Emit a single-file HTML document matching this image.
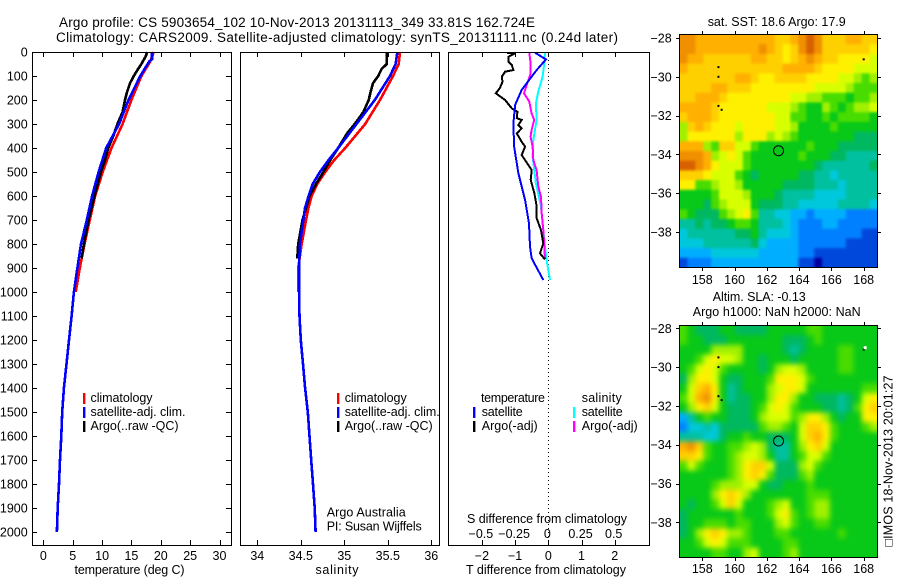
<!DOCTYPE html>
<html>
<head>
<meta charset="utf-8">
<title>Argo profile</title>
<style>
html,body{margin:0;padding:0;background:#fff}
svg{display:block}
text{font-family:"Liberation Sans",sans-serif;font-size:12.5px;fill:#000}
.t{font-size:13.5px}
.prof{fill:none;stroke-width:2.6;shape-rendering:crispEdges}
.diff{fill:none;stroke-width:2;shape-rendering:crispEdges}
.frame{fill:none;stroke:#000;stroke-width:1;shape-rendering:crispEdges}
</style>
</head>
<body>
<svg id="fig" xmlns="http://www.w3.org/2000/svg" width="900" height="580" viewBox="0 0 900 580">
<defs>
<filter id="blurSst" x="-15%" y="-15%" width="130%" height="130%" color-interpolation-filters="sRGB"><feGaussianBlur stdDeviation="1.3"/></filter>
<filter id="blurSla" x="-15%" y="-15%" width="130%" height="130%" color-interpolation-filters="sRGB"><feGaussianBlur stdDeviation="2.7"/></filter>
<clipPath id="clipSst"><rect x="679.5" y="34.5" width="198" height="233"/></clipPath>
<clipPath id="clipSla"><rect x="679.5" y="325.5" width="198" height="232"/></clipPath>
</defs>
<rect width="900" height="580" fill="#fff"/>
<text class="t" x="59" y="27" textLength="476" lengthAdjust="spacing">Argo profile: CS 5903654_102 10-Nov-2013 20131113_349 33.81S 162.724E</text>
<text class="t" x="56" y="42" textLength="562" lengthAdjust="spacing">Climatology: CARS2009. Satellite-adjusted climatology: synTS_20131111.nc (0.24d later)</text>

<g clip-path="url(#clipSst)"><g id="map1" filter="url(#blurSst)"></g></g>
<g clip-path="url(#clipSla)"><g id="map2" filter="url(#blurSla)"></g></g>

<polyline id="tClim" class="prof" stroke="#ff0000"/>
<polyline id="tArgo" class="prof" stroke="#000000"/>
<polyline id="tSat" class="prof" stroke="#0000ff"/>
<polyline id="sClim" class="prof" stroke="#ff0000"/>
<polyline id="sArgo" class="prof" stroke="#000000"/>
<polyline id="sSat" class="prof" stroke="#0000ff"/>
<line x1="548.5" y1="52" x2="548.5" y2="545" stroke="#000" stroke-width="1" stroke-dasharray="1 3" shape-rendering="crispEdges"/>
<polyline id="dSalSat" class="diff" stroke="#00ffff"/>
<polyline id="dSalArgo" class="diff" stroke="#ff00ff"/>
<polyline id="dTempArgo" class="diff" stroke="#000000"/>
<polyline id="dTempSat" class="diff" stroke="#0000ff"/>

<rect class="frame" x="32.5" y="52.5" width="199" height="493"/>
<rect class="frame" x="240.5" y="52.5" width="199" height="493"/>
<rect class="frame" x="448.5" y="52.5" width="201" height="493"/>
<rect class="frame" x="679.5" y="34.5" width="198" height="233"/>
<rect class="frame" x="679.5" y="325.5" width="198" height="232"/>
<g id="ticks"></g>

<text x="129.5" y="574" text-anchor="middle" textLength="110">temperature (deg C)</text>
<text x="337" y="574" text-anchor="middle" textLength="43">salinity</text>
<text x="546" y="574" text-anchor="middle" textLength="160">T difference from climatology</text>
<text x="547" y="523" text-anchor="middle" textLength="160">S difference from climatology</text>

<g>
<rect x="83" y="393" width="2.4" height="11" fill="#f00"/>
<rect x="83" y="407" width="2.4" height="11" fill="#00f"/>
<rect x="83" y="421" width="2.4" height="11" fill="#000"/>
<text x="90.5" y="402" textLength="62">climatology</text>
<text x="90.5" y="416" textLength="95">satellite-adj. clim.</text>
<text x="90.5" y="430" textLength="88">Argo(..raw -QC)</text>
</g>
<g>
<rect x="337" y="393" width="2.4" height="11" fill="#f00"/>
<rect x="337" y="407" width="2.4" height="11" fill="#00f"/>
<rect x="337" y="421" width="2.4" height="11" fill="#000"/>
<text x="344.7" y="402" textLength="62">climatology</text>
<text x="344.7" y="416" textLength="95">satellite-adj. clim.</text>
<text x="344.7" y="430" textLength="88">Argo(..raw -QC)</text>
</g>
<text x="326.7" y="516.5" textLength="79">Argo Australia</text>
<text x="326.7" y="530.5" textLength="95">PI: Susan Wijffels</text>
<g>
<text x="481" y="402" textLength="64">temperature</text>
<text x="581.7" y="402" textLength="40">salinity</text>
<rect x="473" y="407" width="2.4" height="11" fill="#00f"/>
<rect x="473" y="421" width="2.4" height="11" fill="#000"/>
<rect x="573" y="407" width="2.4" height="11" fill="#0ff"/>
<rect x="573" y="421" width="2.4" height="11" fill="#f0f"/>
<text x="481.7" y="416" textLength="41">satellite</text>
<text x="481.7" y="430" textLength="56">Argo(-adj)</text>
<text x="581.7" y="416" textLength="41">satellite</text>
<text x="581.7" y="430" textLength="56">Argo(-adj)</text>
</g>

<text x="707.7" y="26" textLength="138">sat. SST: 18.6 Argo: 17.9</text>
<text x="712.7" y="301" textLength="93">Altim. SLA: -0.13</text>
<text x="692.7" y="316" textLength="168">Argo h1000: NaN h2000: NaN</text>
<text transform="translate(892.5,546.5) rotate(-90)" textLength="171">□IMOS 18-Nov-2013 20:01:27</text>
</svg>
<script>
// Profile depths and values (depth in dbar, temperature in deg C)
const tClimDepth = [0,40,100,200,300,400,500,600,700,800,900,1000];
const tClimValue = [18.8,18.2,16.7,15.0,13.5,11.6,10.1,8.8,7.9,7.0,6.2,5.5];
const tSatDepth = [0,30,40,100,200,300,400,500,600,700,800,900,1000,1100,1200,1300,1400,1500,1600,1700,1800,1900,2000];
const tSatValue = [18.5,18.5,18.0,16.5,14.5,12.9,10.7,9.4,8.3,7.4,6.4,5.8,5.2,4.8,4.36,3.93,3.5,3.2,3.05,2.83,2.66,2.43,2.3];
const tArgoDepth = [0,20,50,80,100,130,170,200,250,300,350,400,450,500,600,700,800,860];
const tArgoValue = [17.7,17.4,16.7,15.9,15.4,14.75,14.2,13.9,13.5,12.6,11.9,11.05,10.5,9.8,8.7,7.7,6.9,6.5];

// Salinity profiles
const sClimDepth = [0,50,100,200,300,400,450,500,550,600,650,700,800,900,1000];
const sClimValue = [35.64,35.625,35.56,35.41,35.24,35.01,34.885,34.78,34.69,34.625,34.587,34.56,34.51,34.47,34.47];
const sSatDepth = [0,50,100,200,300,400,450,500,550,600,650,700,800,900,1000,1100,1200,1300,1400,1500,1600,1700,1800,1900,2000];
const sSatValue = [35.61,35.59,35.525,35.35,35.14,34.93,34.82,34.72,34.637,34.59,34.548,34.53,34.49,34.48,34.48,34.485,34.50,34.525,34.55,34.58,34.60,34.62,34.64,34.66,34.67];
const sArgoDepth = [0,50,70,100,130,170,200,250,300,340,400,450,500,550,600,700,800,860];
const sArgoValue = [35.49,35.49,35.43,35.39,35.33,35.30,35.28,35.22,35.12,35.03,34.93,34.84,34.76,34.675,34.6,34.52,34.47,34.46];

// Differences from climatology
const dTempArgoDepth = [5,5,5,20,40,54,75,82,103,124,151,172,200,235,249,276,283,304,318,339,374,394,429,457,492,533,589,644,693,742,797,839,864];
const dTempArgoValue = [-1.15,-1.25,-1.0,-1.2,-1.2,-1.1,-1.05,-1.3,-1.4,-1.38,-1.46,-1.58,-1.3,-1.1,-0.93,-0.95,-0.8,-0.9,-0.8,-0.95,-0.8,-0.7,-0.8,-0.67,-0.5,-0.53,-0.42,-0.35,-0.35,-0.22,-0.15,-0.25,-0.1];
const dTempSatDepth = [3,31,75,158,221,297,394,506,617,714,811,860,950];
const dTempSatValue = [-0.4,-0.07,-0.35,-0.8,-1.0,-1.05,-1.03,-0.9,-0.7,-0.58,-0.55,-0.5,-0.15];
const dSalArgoDepth = [3,47,89,131,172,207,256,283,325,353,394,450,492,561,603,672,742,860];
const dSalArgoValue = [-0.143,-0.133,-0.133,-0.158,-0.183,-0.143,-0.126,-0.106,-0.126,-0.133,-0.118,-0.113,-0.088,-0.075,-0.055,-0.05,-0.038,-0.025];
const dSalSatDepth = [3,47,103,165,214,283,367,436,547,644,769,867,950];
const dSalSatValue = [-0.025,-0.03,-0.043,-0.075,-0.093,-0.088,-0.113,-0.118,-0.093,-0.055,-0.033,-0.013,0.013];

// Tick labels
const depthTicks = [0,100,200,300,400,500,600,700,800,900,1000,1100,1200,1300,1400,1500,1600,1700,1800,1900,2000];
const tempTicks = [0,5,10,15,20,25,30];
const salTicks = [34,34.5,35,35.5,36];
const dTempTicks = [-2,-1,0,1,2];
const dSalTicks = [-0.5,-0.25,0,0.25,0.5];
const lonTicks = [158,160,162,164,166,168];
const latTicks = [-28,-30,-32,-34,-36,-38];

// Map values: colour-level per cell, north to south (0 = coldest/lowest, 15 = warmest/highest)
const sstGrid = [
[14,14,13,13,13,13,13,13,13,13,13,13,12,12,13,14,15,14,12,12,12,13,13,12,12],
[14,14,13,13,13,13,13,13,13,13,14,13,12,11,12,14,15,14,12,12,12,12,12,12,11],
[14,13,13,12,12,12,12,12,12,13,13,12,12,11,12,13,14,13,12,12,11,11,11,11,10],
[13,12,12,12,12,12,12,12,12,12,12,12,12,13,13,13,13,12,11,11,11,11,10,10,10],
[12,12,12,12,12,12,12,13,13,12,11,11,12,12,12,12,11,11,11,11,10,10,9,8,9],
[12,12,12,12,13,13,12,12,12,11,11,11,11,11,11,11,11,10,10,10,10,9,8,8,8],
[12,12,13,13,13,12,11,11,11,11,11,11,11,11,10,10,9,9,8,8,8,7,8,8,9],
[13,13,13,13,12,11,11,11,11,11,11,10,10,10,9,8,7,7,9,8,7,8,9,9,10],
[12,13,13,13,12,11,11,11,11,11,11,11,10,10,8,8,7,7,8,7,8,8,8,8,7],
[9,12,13,12,11,11,11,10,11,11,11,11,10,10,9,7,7,7,7,8,7,7,7,7,7],
[9,11,11,11,11,11,11,9,11,11,11,9,10,9,8,7,7,7,7,7,7,7,6,6,6],
[13,13,13,9,8,12,12,10,10,8,7,7,7,7,7,7,8,7,7,7,6,6,6,6,6],
[14,14,14,13,9,10,11,10,8,7,7,7,7,7,7,8,7,7,7,6,6,5,5,5,5],
[15,15,14,13,11,10,10,10,8,7,7,7,7,7,7,7,7,6,5,5,5,5,5,5,6],
[12,12,12,11,10,10,10,8,7,6,7,7,7,7,7,6,6,5,5,4,5,5,5,5,5],
[11,11,8,8,9,10,10,9,7,7,7,7,7,6,6,6,6,5,5,5,4,5,5,5,5],
[7,7,7,7,8,10,10,10,9,7,7,7,6,5,5,5,5,4,4,4,4,5,5,5,5],
[7,7,7,6,8,9,10,10,10,7,6,6,6,5,5,4,4,4,4,4,5,5,5,5,4],
[8,7,6,6,6,8,9,10,11,8,5,5,4,4,3,3,2,3,3,3,3,2,2,2,2],
[5,5,6,5,6,6,7,8,8,7,5,5,5,4,3,2,2,2,3,3,2,2,2,2,2],
[4,5,5,5,5,5,5,6,6,7,5,4,4,4,3,2,2,2,2,2,2,2,2,1,1],
[4,4,4,5,5,5,5,5,5,6,4,3,3,3,3,2,2,2,2,2,2,1,1,1,1],
[3,3,3,3,4,4,4,4,4,4,3,3,3,3,3,2,2,1,1,1,1,1,1,1,1],
[1,2,2,2,3,3,3,3,3,3,3,3,3,3,3,1,1,0,1,1,1,1,1,1,1]
];
const slaGrid = [
[8,7,6,6,6,7,7,6,6,6,6,7,7,7,7,7,8,8,7,7,7,7,7,7,7],
[8,7,7,6,6,6,7,7,7,7,7,7,7,6,6,6,7,8,7,7,7,7,7,7,7],
[7,7,7,7,9,9,9,9,7,7,7,7,7,6,5,6,7,7,7,7,8,8,7,7,7],
[7,7,8,10,11,10,10,9,7,7,6,7,7,7,6,7,7,7,7,7,8,8,7,7,7],
[7,8,10,11,10,8,7,7,7,7,6,7,9,10,10,9,7,7,7,7,8,8,7,7,7],
[6,9,11,11,10,7,6,6,7,7,7,8,11,11,11,10,8,7,7,7,7,7,7,7,7],
[7,10,12,13,11,7,5,6,7,7,7,9,10,11,11,10,7,7,7,7,7,7,7,8,8],
[8,10,13,14,11,7,5,6,6,7,7,9,11,11,9,7,7,6,6,6,5,6,7,10,11],
[7,9,11,12,10,7,6,6,6,7,8,10,11,10,8,7,7,7,6,6,5,6,8,11,12],
[3,5,7,8,7,7,6,6,6,7,9,10,10,10,8,9,11,11,9,7,6,7,7,11,11],
[2,4,4,5,4,6,6,6,6,6,8,9,9,8,7,10,12,12,11,8,7,7,7,8,9],
[5,5,5,4,4,6,7,7,8,7,7,6,6,6,7,10,12,13,11,8,7,7,7,7,7],
[13,14,12,8,7,7,8,8,9,10,9,6,5,5,7,9,11,12,10,7,7,7,7,7,7],
[12,12,11,8,7,7,8,9,10,10,9,7,5,5,7,8,10,10,8,7,7,7,7,7,7],
[8,10,8,7,7,7,8,9,11,12,12,10,6,6,6,9,10,8,7,7,7,7,7,7,7],
[7,7,7,7,7,7,8,9,11,12,11,8,6,6,6,8,9,7,7,7,7,7,7,7,7],
[7,7,7,7,8,9,9,9,10,10,7,6,6,7,7,7,8,7,7,7,7,7,7,7,7],
[7,7,7,7,9,11,12,11,9,7,7,7,7,7,7,7,8,8,8,7,7,7,7,7,7],
[7,6,7,7,8,10,12,10,7,7,7,8,9,10,7,7,8,9,9,7,7,7,7,7,7],
[6,7,7,7,7,7,7,8,7,7,7,8,10,11,8,7,8,9,9,7,7,7,7,7,7],
[6,7,7,8,8,8,7,8,8,7,7,7,9,10,8,7,7,8,8,7,7,7,7,7,7],
[6,7,9,11,12,11,9,9,8,7,7,7,8,8,7,7,7,7,7,7,8,7,7,7,7],
[7,7,8,10,11,10,8,8,8,7,7,7,7,8,8,7,7,7,7,7,7,7,7,7,7],
[7,7,7,7,8,8,7,7,9,10,7,7,7,8,9,7,7,7,7,7,7,7,7,7,7]
];
const levelColors = ['#0000a0','#0048dc','#0080ff','#00aeff','#00c8dc','#00c0a0','#00b860','#08c818','#48dc00','#a0f000','#d8ff00','#fff000','#ffd000','#ffb000','#f09000','#d86000'];

// Argo float location and land/missing-data specks (lon, lat)
const floatLon = [162.724];
const floatLat = [-33.81];
const speckLon = [159,159,159,159.2,168];
const speckLat = [-29.5,-30,-31.5,-31.7,-29.1];

// Axis functions
const yDepth = d => 52 + 0.24 * d;
const xTemp = t => 43.4 + 5.87 * t;
const xSal = s => 257.3 + 87 * (s - 34);
const xDT = t => 548.3 + 33.2 * t;
const xDS = s => 548.3 + 132.8 * s;
const xLon = lon => 702.3 + 16.14 * (lon - 158);
const yLat1 = lat => 38 + 19.4 * (-28 - lat);
const yLat2 = lat => 328.3 + 19.4 * (-28 - lat);

const SVGNS = 'http://www.w3.org/2000/svg';
const svg = document.getElementById('fig');
const tickLayer = document.getElementById('ticks');

function make(parent, tag, attrs) {
  const el = document.createElementNS(SVGNS, tag);
  for (const k in attrs) el.setAttribute(k, attrs[k]);
  parent.appendChild(el);
  return el;
}
function plot(id, depths, values, xf) {
  document.getElementById(id).setAttribute('points',
    depths.map((d, i) => xf(values[i]).toFixed(1) + ',' + yDepth(d).toFixed(1)).join(' '));
}
function fmt(v) {
  return String(v).replace('-', '\u2212');
}
function tickLine(x1, y1, x2, y2) {
  const el = make(tickLayer, 'line', {x1: x1, y1: y1, x2: x2, y2: y2, stroke: '#000', 'stroke-width': 1, 'shape-rendering': 'crispEdges'});
  
  
}
function tickLabel(x, y, str, anchor) {
  const el = make(svg, 'text', {x: x, y: y, 'text-anchor': anchor});
  el.textContent = str;
  
  
}
function drawGrid(layerId, grid, top, bottom) {
  const layer = document.getElementById(layerId);
  const left = 679.5, right = 877.5, pad = 20;
  const rows = grid.length, cols = grid[0].length;
  const cw = (right - left) / cols, ch = (bottom - top) / rows;
  grid.forEach((row, r) => row.forEach((v, c) => {
    // Edge cells run past the clip so the blur does not fade at the frame
    const x0 = left + c * cw - (c === 0 ? pad : 0);
    const y0 = top + r * ch - (r === 0 ? pad : 0);
    const x1 = left + (c + 1) * cw + (c === cols - 1 ? pad : 0.4);
    const y1 = top + (r + 1) * ch + (r === rows - 1 ? pad : 0.4);
    const el = make(layer, 'rect', {x: x0, y: y0, width: x1 - x0, height: y1 - y0, fill: levelColors[v]});
    
    
  }));
}
function drawMarks(yf, extraWhite) {
  speckLon.forEach((lon, i) => {
    const el = make(svg, 'rect', {x: xLon(lon) - 1, y: yf(speckLat[i]) - 1, width: 2, height: 2, fill: '#000'});
    
    
  });
  floatLon.forEach((lon, i) => {
    const el = make(svg, 'circle', {cx: xLon(lon), cy: yf(floatLat[i]), r: 5, fill: 'none', stroke: '#000', 'stroke-width': 1});
    
    
  });
  if (extraWhite) {
    const el = make(svg, 'rect', {x: xLon(168) , y: yf(-29) - 1.5, width: 3, height: 3, fill: '#fff'});
    
    
  }
}

drawGrid('map1', sstGrid, 34.5, 267.5);
drawGrid('map2', slaGrid, 325.5, 557.5);

plot('tClim', tClimDepth, tClimValue, xTemp);
plot('tArgo', tArgoDepth, tArgoValue, xTemp);
plot('tSat', tSatDepth, tSatValue, xTemp);
plot('sClim', sClimDepth, sClimValue, xSal);
plot('sArgo', sArgoDepth, sArgoValue, xSal);
plot('sSat', sSatDepth, sSatValue, xSal);
plot('dSalSat', dSalSatDepth, dSalSatValue, xDS);
plot('dSalArgo', dSalArgoDepth, dSalArgoValue, xDS);
plot('dTempArgo', dTempArgoDepth, dTempArgoValue, xDT);
plot('dTempSat', dTempSatDepth, dTempSatValue, xDT);

drawMarks(yLat1, false);
drawMarks(yLat2, true);

// Depth axis
depthTicks.forEach(d => {
  const y = Math.round(yDepth(d)) + 0.5;
  tickLine(32, y, 37, y);
  tickLine(226, y, 231, y);
  tickLabel(27.7, yDepth(d) + 4.5, String(d), 'end');
});
// Temperature axis
tempTicks.forEach(t => {
  const x = Math.round(xTemp(t)) + 0.5;
  tickLine(x, 52, x, 57);
  tickLine(x, 540, x, 545);
  tickLabel(xTemp(t), 560, String(t), 'middle');
});
// Salinity axis
salTicks.forEach(s => {
  const x = Math.round(xSal(s)) + 0.5;
  tickLine(x, 52, x, 57);
  tickLine(x, 540, x, 545);
  tickLabel(xSal(s), 560, String(s), 'middle');
});
// Difference axes
dTempTicks.forEach(t => {
  const x = Math.round(xDT(t)) + 0.5;
  tickLine(x, 52, x, 57);
  tickLine(x, 540, x, 545);
  tickLabel(xDT(t), 560, fmt(t), 'middle');
});
dSalTicks.forEach(s => {
  tickLabel(xDS(s) - 1, 538, fmt(s), 'middle');
});
// Map axes
lonTicks.forEach(lon => {
  const x = Math.round(xLon(lon)) + 0.5;
  tickLine(x, 31, x, 34);
  tickLine(x, 268, x, 271);
  tickLine(x, 322, x, 325);
  tickLine(x, 558, x, 561);
  tickLabel(xLon(lon), 284, String(lon), 'middle');
  tickLabel(xLon(lon), 573, String(lon), 'middle');
});
latTicks.forEach(lat => {
  const y1 = Math.round(yLat1(lat)) + 0.5, y2 = Math.round(yLat2(lat)) + 0.5;
  tickLine(676, y1, 679, y1);
  tickLine(878, y1, 881, y1);
  tickLine(676, y2, 679, y2);
  tickLine(878, y2, 881, y2);
  tickLabel(671.7, yLat1(lat) + 4.5, fmt(lat), 'end');
  tickLabel(671.7, yLat2(lat) + 4.5, fmt(lat), 'end');
});
</script>
</body>
</html>
